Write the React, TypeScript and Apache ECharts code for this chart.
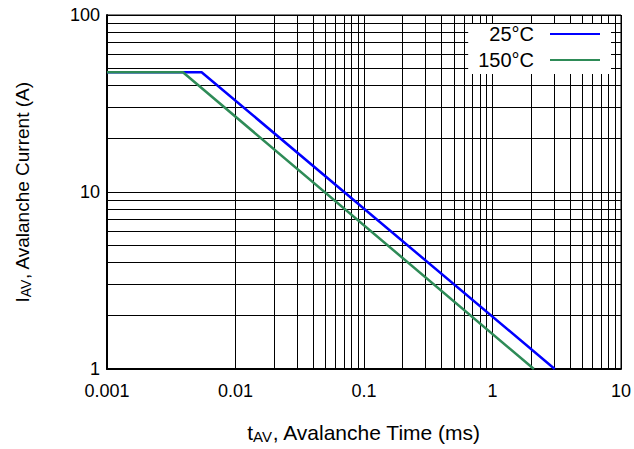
import React, { useEffect, useRef } from "react";
import * as echarts from "echarts";

const FONT = "'Liberation Sans', Arial, Helvetica, sans-serif";

const seriesNames = ["25°C", "150°C"];
const seriesColors = ["#0000ff", "#2e8b57"];
// [time (ms), current (A)]
const data25: [number, number][] = [
  [0.001, 47.5],
  [0.00545, 47.5],
  [3.05, 1],
];
const data150: [number, number][] = [
  [0.001, 47.5],
  [0.0039, 47.5],
  [2.1, 1],
];

const xMin = 0.001;
const xMax = 10;
const yMin = 1;
const yMax = 100;
const xMinorGrid = [
  0.002, 0.003, 0.004, 0.005, 0.006, 0.007, 0.008, 0.009,
  0.02, 0.03, 0.04, 0.05, 0.06, 0.07, 0.08, 0.09,
  0.2, 0.3, 0.4, 0.5, 0.6, 0.7, 0.8, 0.9,
  2, 3, 4, 5, 6, 7, 8, 9,
];
const yMinorGrid = [2, 3, 4, 5, 6, 7, 8, 9, 20, 30, 40, 50, 60, 70, 80, 90];

const GRID_COLOR = "#000";

function fmt(v: number): string {
  return String(Number(Number(v).toPrecision(3)));
}

function nameRich(size: number, subSize: number) {
  return {
    m: { fontSize: size, fontFamily: FONT, color: "#000", lineHeight: size + 3 },
    s: {
      fontSize: subSize,
      fontFamily: FONT,
      color: "#000",
      lineHeight: subSize,
      verticalAlign: "bottom",
    },
  };
}

export default function App() {
  const ref = useRef<HTMLDivElement>(null);

  useEffect(() => {
    if (!ref.current) return;
    const chart = echarts.init(ref.current, null, { renderer: "svg" });

    const minorLines = [
      ...xMinorGrid.map((v) => ({ xAxis: v })),
      ...yMinorGrid.map((v) => ({ yAxis: v })),
    ];

    const option: any = {
      animation: false,
      backgroundColor: "#fff",
      textStyle: { fontFamily: FONT },
      grid: {
        left: 107,
        right: 12,
        top: 15,
        bottom: 74,
        show: true,
        borderColor: "#000",
        borderWidth: 1,
        backgroundColor: "transparent",
      },
      legend: {
        data: seriesNames,
        orient: "vertical",
        align: "right",
        right: 23,
        top: 24,
        padding: [0, 10, 4, 10],
        backgroundColor: "#fff",
        itemWidth: 50,
        itemHeight: 14,
        itemGap: 6,
        selectedMode: false,
        z: 10,
        itemStyle: { opacity: 0, color: "rgba(0,0,0,0)", borderWidth: 0 },
        formatter: (name: string) => `{a|${name}}`,
        textStyle: {
          fontSize: 20,
          color: "#000",
          fontFamily: FONT,
          rich: {
            a: {
              fontSize: 20,
              fontFamily: FONT,
              color: "#000",
              lineHeight: 21,
              padding: [0, 11, 0, 0],
            },
          },
        },
      },
      xAxis: {
        type: "log",
        logBase: 10,
        min: xMin,
        max: xMax,
        name: "{m|t}{s|AV}{m|, Avalanche Time (ms)}",
        nameLocation: "middle",
        nameGap: 51,
        nameTextStyle: {
          color: "#000",
          fontFamily: FONT,
          fontSize: 21,
          rich: nameRich(21, 15),
        },
        axisLine: { show: true, lineStyle: { color: "#000", width: 2 } },
        axisTick: { show: false },
        axisLabel: {
          color: "#000",
          fontSize: 18,
          fontFamily: FONT,
          margin: 13,
          formatter: (v: number) => fmt(v),
        },
        splitLine: { show: true, lineStyle: { color: GRID_COLOR, width: 1 } },
      },
      yAxis: {
        type: "log",
        logBase: 10,
        min: yMin,
        max: yMax,
        name: "{m|I}{s|AV}{m|, Avalanche Current (A)}",
        nameLocation: "middle",
        nameRotate: 90,
        nameGap: 74,
        nameTextStyle: {
          color: "#000",
          fontFamily: FONT,
          fontSize: 19,
          rich: nameRich(19, 14),
        },
        axisLine: { show: true, lineStyle: { color: "#000", width: 2 } },
        axisTick: { show: false },
        axisLabel: {
          color: "#000",
          fontSize: 18,
          fontFamily: FONT,
          margin: 7,
          formatter: (v: number) => fmt(v),
        },
        splitLine: { show: true, lineStyle: { color: GRID_COLOR, width: 1 } },
      },
      series: [
        {
          name: "minor-grid",
          type: "line",
          data: [],
          z: 1,
          silent: true,
          markLine: {
            silent: true,
            z: 1,
            symbol: ["none", "none"],
            label: { show: false },
            lineStyle: { color: GRID_COLOR, width: 1, type: "solid" },
            emphasis: { disabled: true },
            data: minorLines,
          },
        },
        {
          name: seriesNames[0],
          type: "line",
          data: data25,
          symbol: "none",
          z: 3,
          lineStyle: { color: seriesColors[0], width: 2.5 },
          itemStyle: { color: seriesColors[0] },
        },
        {
          name: seriesNames[1],
          type: "line",
          data: data150,
          symbol: "none",
          z: 3,
          lineStyle: { color: seriesColors[1], width: 2.5 },
          itemStyle: { color: seriesColors[1] },
        },
      ],
    };

    chart.setOption(option);
    return () => chart.dispose();
  }, []);

  return (
    <div
      ref={ref}
      style={{ position: "fixed", left: 0, top: 0, width: 634, height: 449 }}
    />
  );
}
